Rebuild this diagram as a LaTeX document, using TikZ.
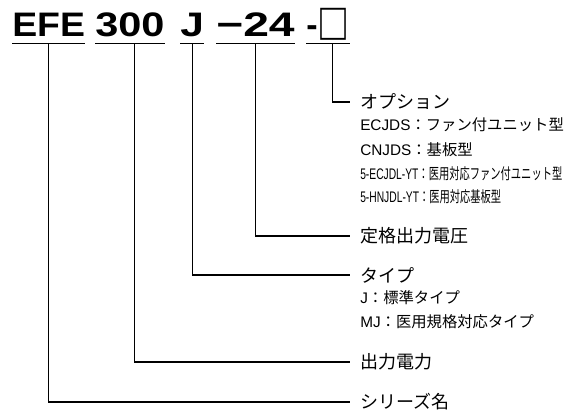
\documentclass[tikz,border=0pt]{standalone}
\usepackage{fontspec,graphicx}
\setmainfont{Liberation Sans}
\newfontfamily\cjk{Noto Sans CJK JP}

\tikzset{
  code/.style={inner xsep=0pt, inner ysep=4.5pt, text depth=0pt, anchor=base west,
    font=\fontsize{25.5pt}{30pt}\selectfont\bfseries},
  head/.style={anchor=west, inner xsep=7.5pt, inner ysep=0pt,
    font=\fontsize{13.5pt}{16pt}\selectfont\cjk},
  item/.style={anchor=west, inner sep=0pt, font=\fontsize{11.5pt}{14pt}\selectfont},
  lead/.style={line width=0.8pt},
}

\begin{document}
\begin{tikzpicture}[x=0.75pt,y=-0.75pt]
    \useasboundingbox (0,0) rectangle (578,410);
    % model code
    \node[code] (pSeries) at (12,37) {\scalebox{1.1}[1]{EFE}};
    \node[code] (pPower) at (95,37) {\scalebox{1.22}[1]{300}};
    \node[code] (pType) at (180,37) {\scalebox{1.25}[1]{J}};
    \node[code] (pVolt) at (216,37) {\scalebox{1.36}[1]{−24}};
    \node[code] (pOpt) at (306,37) {-\raisebox{-1.75pt}{\resizebox*{24pt}{24pt}{\cjk □}}};
    \foreach \p in {pSeries,pPower,pType,pVolt,pOpt}
        \draw[lead] (\p.south west) -- (\p.south east);
    % labels
    \node[head] (lOpt) at (350,102) {オプション};
    \node[head] (lVolt) at (350,236) {定格出力電圧};
    \node[head] (lType) at (350,275) {タイプ};
    \node[head] (lPower) at (350,362) {出力電力};
    \node[head] (lSeries) at (350,402) {シリーズ名};
    \node[item] (iEcjds) at (360,125) {ECJDS{\cjk ：ファン付ユニット型}};
    \node[item] (iCnjds) at (360,150) {CNJDS{\cjk ：基板型}};
    \node[item] (iEcjdl) at (360,174) {\scalebox{0.67}[1]{5-ECJDL-YT{\cjk ：医用対応ファン付ユニット型}}};
    \node[item] (iHnjdl) at (360,197) {\scalebox{0.67}[1]{5-HNJDL-YT{\cjk ：医用対応基板型}}};
    \node[item] (iJ) at (360,298) {J{\cjk ：標準タイプ}};
    \node[item] (iMJ) at (360,322) {MJ{\cjk ：医用規格対応タイプ}};
    % leaders
    \draw[lead] ([xshift=3.4pt]pOpt.south) |- (lOpt.west);
    \draw[lead] (pVolt.south) |- (lVolt.west);
    \draw[lead] (pType.south) |- (lType.west);
    \draw[lead] ([xshift=3.4pt]pPower.south) |- (lPower.west);
    \draw[lead] (pSeries.south) |- (lSeries.west);
\end{tikzpicture}
\end{document}
